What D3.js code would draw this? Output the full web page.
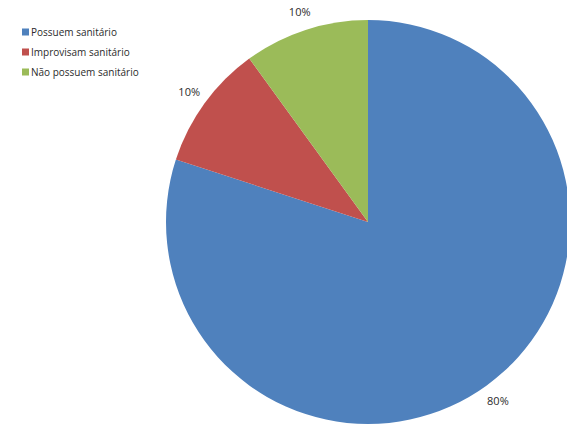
<!DOCTYPE html>
<html>
<head>
<meta charset="utf-8">
<script src="https://cdn.jsdelivr.net/npm/d3@7"></script>
<style>
    body { margin: 0; background: #fff; }
    svg text { font-family: "Open Sans", "Noto Sans", sans-serif; fill: #2b2b2b; }
</style>
</head>
<body>
<div id="canvas-svg"></div>
<script>
var categories = ["Possuem sanitário", "Improvisam sanitário", "Não possuem sanitário"];
var values = [80, 10, 10];
var labels = ["80%", "10%", "10%"];
var colors = ["#4F81BD", "#C0504D", "#9BBB59"];

var width = 567, height = 427;
var cx = 368, cy = 222, radius = 202;

var svg = d3.select("#canvas-svg").append("svg")
    .attr("width", width)
    .attr("height", height);

var pie = d3.pie().sort(null).value(function(d) { return d; });
var arcs = pie(values);

var arc = d3.arc().innerRadius(0).outerRadius(radius);
var labelArc = d3.arc().innerRadius(221).outerRadius(221);

var g = svg.append("g").attr("transform", "translate(" + cx + "," + cy + ")");

g.selectAll("path.slice").data(arcs).enter().append("path")
    .attr("class", "slice")
    .attr("d", arc)
    .style("fill", function(d, i) { return colors[i]; });

g.selectAll("text.lbl").data(arcs).enter().append("text")
    .attr("class", "lbl")
    .attr("transform", function(d) { return "translate(" + labelArc.centroid(d) + ")"; })
    .attr("text-anchor", "middle")
    .attr("dy", "0.35em")
    .style("font-size", "11px")
    .text(function(d, i) { return labels[i]; });

// legend
var legend = svg.append("g").attr("transform", "translate(22,32)");
var item = legend.selectAll("g").data(categories).enter().append("g")
    .attr("transform", function(d, i) { return "translate(0," + (i * 20) + ")"; });

item.append("rect")
    .attr("x", 0).attr("y", -3.5)
    .attr("width", 7).attr("height", 7)
    .style("fill", function(d, i) { return colors[i]; });

item.append("text")
    .attr("x", 9)
    .attr("dy", "0.35em")
    .style("font-size", "10px")
    .text(function(d) { return d; });
</script>
</body>
</html>
